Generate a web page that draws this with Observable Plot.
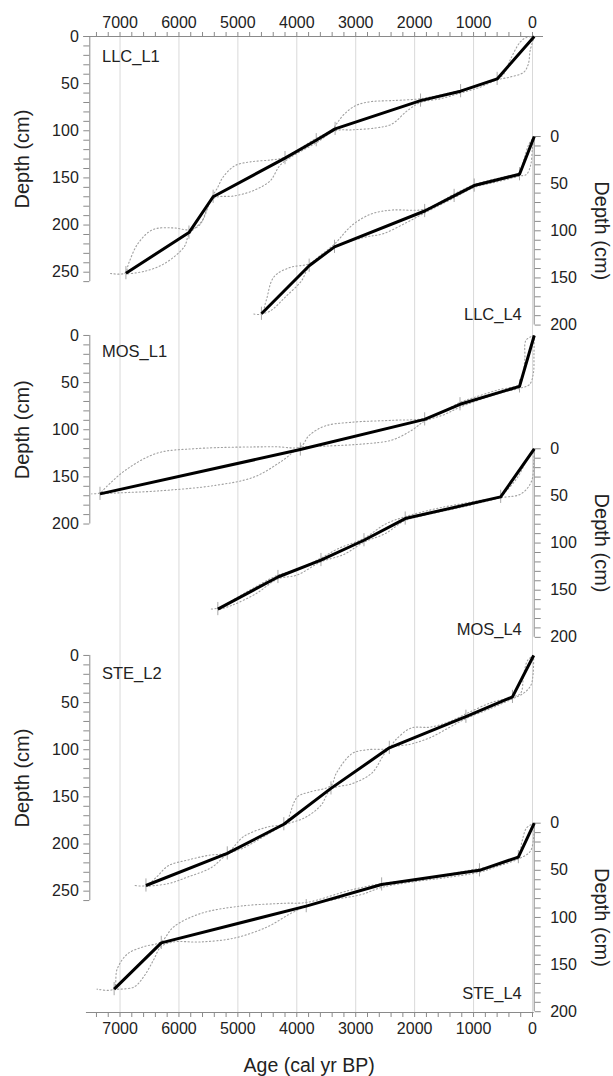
<!DOCTYPE html>
<html><head><meta charset="utf-8">
<script src="https://cdn.jsdelivr.net/npm/d3@7"></script>
<script src="https://cdn.jsdelivr.net/npm/@observablehq/plot@0.6"></script>
<style>
html,body{margin:0;padding:0;background:#fff;}
#chart svg{display:block;}
</style>
</head><body><div id="chart"></div>
<script>
// ---------- DATA: [age (cal yr BP), depth (cm)] ----------
const LLC_L1 = [[-30,0],[600,45],[1220,58],[1900,68],[3350,98],[3670,110],[4200,129],[5420,170],[5830,208],[6900,251]];
const LLC_L1_old = [[-30,0],[100,1],[210,6],[380,25],[490,40],[600,45],[900,51],[1220,57],[1560,62],[1900,66],[2390,68],[2730,69],[2990,73],[3190,82],[3330,93],[3400,99],[3700,109],[4000,121],[4250,129],[4450,131],[4790,133],[5050,137],[5250,149],[5350,161],[5430,169],[5520,182],[5650,200],[5830,205],[6100,203],[6450,205],[6700,220],[6850,240],[6920,251],[7200,251]];
const LLC_L1_young = [[-30,0],[40,15],[70,29],[150,38],[380,43],[600,46],[900,54],[1220,60],[1560,66],[1900,70],[2130,79],[2390,93],[2660,97],[3060,99],[3350,100],[3650,112],[4100,128],[4290,137],[4450,153],[4720,163],[5050,169],[5420,172],[5600,195],[5830,210],[5910,223],[6250,241],[6580,249],[6900,252]];

const LLC_L4 = [[-30,0],[220,40],[990,52],[1330,63],[1830,79],[3360,117],[3790,137],[4600,188]];
const LLC_L4_old = [[-30,0],[60,8],[150,25],[220,38],[500,43],[990,51],[1330,61],[1830,77],[2390,78],[2730,82],[3060,94],[3360,114],[3600,126],[3790,135],[4120,139],[4390,149],[4520,174],[4600,188],[4750,188]];
const LLC_L4_young = [[-30,0],[0,12],[30,30],[100,40],[220,42],[600,48],[990,54],[1330,65],[1830,81],[2130,91],[2530,103],[2860,107],[3330,117],[3790,138],[3920,153],[4190,170],[4450,185],[4600,188]];

const MOS_L1 = [[-30,0],[220,54],[1230,73],[1830,89],[3940,121],[7340,168]];
const MOS_L1_old = [[-30,0],[110,5],[130,25],[170,45],[220,52],[600,58],[1000,66],[1230,71],[1500,80],[1830,88],[2390,90],[3060,92],[3520,96],[3790,106],[3940,118],[4390,118],[5710,120],[6380,125],[6910,143],[7240,161],[7340,167],[7480,168]];
const MOS_L1_young = [[-30,0],[-25,20],[-15,40],[50,52],[220,56],[600,62],[1230,76],[1500,84],[1830,91],[2060,101],[2390,111],[2860,115],[3720,118],[3940,119],[4250,133],[4720,150],[5380,159],[6380,165],[7040,167],[7340,168]];

const MOS_L4 = [[-30,0],[540,51],[2160,74],[2860,97],[3590,118],[4320,136],[5340,170]];
const MOS_L4_old = [[-30,0],[80,10],[250,30],[450,45],[540,50],[1000,56],[1600,63],[2160,72],[2500,80],[2860,95],[3300,106],[3590,116],[4000,128],[4320,134],[4800,150],[5340,169],[5450,170]];
const MOS_L4_young = [[-30,0],[-20,15],[20,35],[200,48],[540,52],[1200,62],[1800,70],[2160,76],[2500,90],[2860,99],[3200,112],[3590,120],[4000,134],[4320,138],[4700,154],[5100,166],[5340,171]];

const STE_L2 = [[-20,0],[340,44],[1130,65],[2430,98],[3420,141],[4220,179],[5180,210],[6560,244]];
const STE_L2_old = [[-20,0],[80,5],[150,20],[200,40],[340,44],[700,50],[1130,62],[1400,70],[1730,76],[2060,77],[2330,90],[2430,98],[2800,100],[3060,104],[3330,125],[3420,138],[3790,145],[3990,150],[4160,175],[4220,179],[4500,182],[4900,192],[5180,209],[5500,212],[5850,217],[6180,223],[6380,235],[6560,244],[6750,244]];
const STE_L2_young = [[-20,0],[-10,20],[30,32],[150,40],[340,46],[700,56],[1130,67],[1400,76],[1730,87],[2060,94],[2430,99],[2730,125],[3060,136],[3420,142],[3590,159],[3860,172],[4220,180],[4500,190],[4900,204],[5180,211],[5450,225],[5850,235],[6180,242],[6560,245]];

const STE_L4 = [[-30,0],[240,36],[900,50],[2560,65],[3840,88],[6300,127],[7100,176]];
const STE_L4_old = [[-30,0],[100,5],[180,20],[240,34],[600,45],[900,48],[1500,55],[2000,60],[2552,64],[3090,71],[3830,84],[4220,85],[4960,88],[5640,96],[6090,110],[6305,126],[6600,131],[6880,139],[7050,155],[7110,176],[7390,176]];
const STE_L4_young = [[-30,0],[-20,15],[40,30],[240,38],[600,46],[900,52],[1500,58],[2000,62],[2552,68],[2920,76],[3370,81],[3830,88],[4110,96],[4500,110],[5070,122],[5640,126],[6090,126],[6305,131],[6430,145],[6600,163],[6770,174],[7110,176]];

// tick labels
const ageMajor = [7000, 6000, 5000, 4000, 3000, 2000, 1000, 0];
const ageMinorStep = 200;
const depthLabels = [0, 50, 100, 150, 200, 250];
const depthMinorStep = 10;

// ---------- LAYOUT ----------
const W = 613, H = 1076;
const PX_PER_CM = 0.9428;
const Y_MAX = (1012 - 36) / PX_PER_CM;
const AGE_LEFT = 7513, AGE_RIGHT = -29;
const panels = [
  {name: "LLC_L1", model: LLC_L1, old: LLC_L1_old, young: LLC_L1_young, off: 0,     side: "left",  axisMax: 260, labelDepth: 27},
  {name: "LLC_L4", model: LLC_L4, old: LLC_L4_old, young: LLC_L4_young, off: 106.1, side: "right", axisMax: 200, labelDepth: 195},
  {name: "MOS_L1", model: MOS_L1, old: MOS_L1_old, young: MOS_L1_young, off: 317.1, side: "left",  axisMax: 200, labelDepth: 23},
  {name: "MOS_L4", model: MOS_L4, old: MOS_L4_old, young: MOS_L4_young, off: 437.3, side: "right", axisMax: 200, labelDepth: 198},
  {name: "STE_L2", model: STE_L2, old: STE_L2_old, young: STE_L2_young, off: 656.5, side: "left",  axisMax: 260, labelDepth: 25},
  {name: "STE_L4", model: STE_L4, old: STE_L4_old, young: STE_L4_young, off: 834.4, side: "right", axisMax: 200, labelDepth: 187}
];

const AXIS = "#8a8a8a", TEXT = "#222", GRID = "#d9d9d9", ENV = "#a0a0a0";
const ageTicks = d3.range(7400, -1, -ageMinorStep);

const marks = [];
// gridlines
marks.push(Plot.ruleX(ageMajor, {x: d => d, y1: 0, y2: Y_MAX, stroke: GRID, strokeWidth: 1}));
// top & bottom age axes
marks.push(Plot.ruleY([0], {x1: 7615, x2: -187, stroke: AXIS}));
marks.push(Plot.ruleY([Y_MAX], {x1: 7570, x2: AGE_RIGHT, stroke: AXIS}));
const ageFmt = d => (ageMajor.includes(d) ? String(d) : "");
marks.push(Plot.axisX(ageTicks, {anchor: "top", tickSize: 5, tickPadding: 4, tickFormat: ageFmt, stroke: AXIS, fill: TEXT, label: null, fontSize: 16}));
marks.push(Plot.axisX(ageTicks, {anchor: "bottom", tickSize: 5, tickPadding: 5, tickFormat: ageFmt, stroke: AXIS, fill: TEXT, label: null, fontSize: 16}));

for (const p of panels) {
  const off = p.off;
  const fy = d => d[1] + off;
  const ticks = d3.range(0, p.axisMax + 1, depthMinorStep).map(v => v + off);
  const fmt = d => { const v = Math.round(d - off); return depthLabels.includes(v) && v <= p.axisMax ? String(v) : ""; };
  const axisAge = p.side === "left" ? AGE_LEFT : AGE_RIGHT;
  marks.push(Plot.ruleX([axisAge], {y1: off, y2: off + p.axisMax, stroke: AXIS}));
  marks.push(Plot.axisY(ticks, {anchor: p.side, tickSize: 6, tickPadding: p.side === "left" ? 5 : 10, tickFormat: fmt, stroke: AXIS, fill: TEXT, label: null, fontSize: 16}));
  const center = off + p.axisMax / 2;
  marks.push(Plot.text([p.name], {
    x: p.side === "left" ? 8650 : -1170, y: center, text: () => "Depth (cm)",
    rotate: p.side === "left" ? -90 : 90, fontSize: 20, fill: TEXT
  }));
  marks.push(Plot.line(p.old, {x: d => d[0], y: fy, stroke: ENV, strokeWidth: 1.1, strokeDasharray: "1.2,2.4", curve: "catmull-rom"}));
  marks.push(Plot.line(p.young, {x: d => d[0], y: fy, stroke: ENV, strokeWidth: 1.1, strokeDasharray: "1.2,2.4", curve: "catmull-rom"}));
  marks.push(Plot.ruleX(p.model.filter(d => d[0] > 0), {x: d => d[0], y1: d => d[1] + off - 7, y2: d => d[1] + off + 7, stroke: "#a8a8a8", strokeWidth: 1}));
  marks.push(Plot.line(p.model, {x: d => d[0], y: fy, stroke: "#000", strokeWidth: 3, strokeLinejoin: "round", strokeLinecap: "butt"}));
  marks.push(Plot.text([p.name], {
    x: p.side === "left" ? 7306 : 182, y: off + p.labelDepth, text: d => d,
    textAnchor: p.side === "left" ? "start" : "end", lineAnchor: "bottom", fontSize: 16.5, fill: TEXT
  }));
}
marks.push(Plot.text(["Age (cal yr BP)"], {x: 3790, y: (1071 - 36) / PX_PER_CM, text: d => d, lineAnchor: "bottom", fontSize: 19.5, fill: TEXT}));

const chart = Plot.plot({
  width: W, height: H,
  marginTop: 36, marginBottom: H - 1012, marginLeft: 89.3, marginRight: W - 533.7,
  x: {domain: [AGE_LEFT, AGE_RIGHT]},
  y: {domain: [0, Y_MAX], reverse: true},
  style: {fontFamily: "'Liberation Sans', Arial, sans-serif", fontSize: "16px", background: "#fff", color: TEXT},
  marks
});
document.getElementById("chart").appendChild(chart);
</script>
</body></html>
